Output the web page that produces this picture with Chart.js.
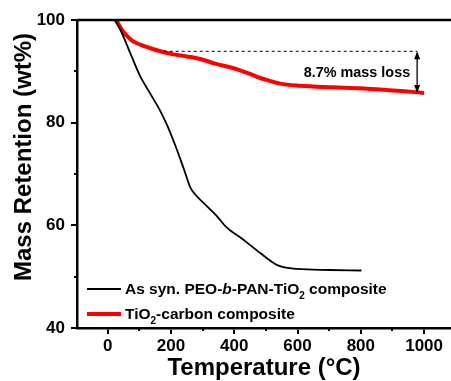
<!DOCTYPE html>
<html>
<head>
<meta charset="utf-8">
<script src="https://cdn.jsdelivr.net/npm/chart.js@4"></script>
<style>
  html, body { margin: 0; padding: 0; background: #fff; }
  #wrap { width: 451px; height: 381px; }
</style>
</head>
<body>
<div id="wrap"><canvas id="tga"></canvas></div>
<script>
// TGA data (temperature in °C, mass retention in wt%)
const asSynTemp = [22, 40, 71, 103, 135, 166, 187, 198, 214, 229, 245, 261, 277, 319, 345, 376, 429, 482, 534, 560, 598, 700, 802];
const asSynMass = [100, 98.1, 93.6, 89.0, 85.6, 82.3, 79.6, 78.0, 75.5, 73.0, 70.2, 67.4, 66.0, 63.4, 61.8, 59.6, 57.2, 54.6, 52.3, 51.8, 51.5, 51.3, 51.2];
const carbonTemp = [27, 40, 52, 77, 103, 135, 155, 208, 250, 292, 345, 380, 419, 450, 482, 515, 545, 608, 713, 800, 871, 940, 1000];
const carbonMass = [100, 98.6, 97.5, 96.0, 95.2, 94.5, 94.1, 93.3, 92.9, 92.4, 91.4, 90.9, 90.2, 89.5, 88.7, 88.1, 87.6, 87.2, 86.9, 86.7, 86.4, 86.1, 85.8];

const xTicks = [0, 200, 400, 600, 800, 1000];
const xMinorTicks = [-100, 100, 300, 500, 700, 900];
const yTicks = [40, 60, 80, 100];
const yMinorTicks = [50, 70, 90];

const yTitle = 'Mass Retention (wt%)';

// mass-loss annotation
const lossLabel = '8.7% mass loss';
const lossTop = 93.9;
const lossBottom = 85.8;
const lossFromTemp = 177;
const lossAtTemp = 978;

const boldFont = '"Liberation Sans", Arial, sans-serif';

const toPoints = (xs, ys) => xs.map((x, i) => ({ x, y: ys[i] }));

// y title, minor ticks, top frame line, annotation and legend
const extras = {
  id: 'extras',
  afterDraw(chart) {
    const { ctx, chartArea, scales } = chart;
    const xs = scales.x, ys = scales.y;
    ctx.save();
    ctx.strokeStyle = '#000';
    ctx.fillStyle = '#000';

    // y axis title (sits a bit above the axis middle in the original)
    ctx.save();
    ctx.translate(24, 157);
    ctx.rotate(-Math.PI / 2);
    ctx.font = 'bold 24px ' + boldFont;
    ctx.textAlign = 'center';
    ctx.textBaseline = 'middle';
    ctx.fillText(yTitle, 0, 0);
    ctx.restore();

    // minor ticks
    ctx.lineWidth = 2;
    xMinorTicks.forEach(v => {
      const px = Math.round(xs.getPixelForValue(v));
      if (px < chartArea.left) return;
      ctx.beginPath();
      ctx.moveTo(px, chartArea.bottom);
      ctx.lineTo(px, chartArea.bottom + 3);
      ctx.stroke();
    });
    yMinorTicks.forEach(v => {
      const py = Math.round(ys.getPixelForValue(v));
      ctx.beginPath();
      ctx.moveTo(chartArea.left, py);
      ctx.lineTo(chartArea.left - 3, py);
      ctx.stroke();
    });

    // top frame
    ctx.lineWidth = 2.5;
    ctx.beginPath();
    ctx.moveTo(chartArea.left, chartArea.top);
    ctx.lineTo(chartArea.right, chartArea.top);
    ctx.stroke();

    // dashed reference line
    const yTop = ys.getPixelForValue(lossTop);
    const yBot = ys.getPixelForValue(lossBottom);
    const xa = xs.getPixelForValue(lossAtTemp);
    ctx.lineWidth = 1;
    ctx.setLineDash([3, 3]);
    ctx.beginPath();
    ctx.moveTo(xs.getPixelForValue(lossFromTemp), yTop);
    ctx.lineTo(xa, yTop);
    ctx.stroke();
    ctx.setLineDash([]);

    // double arrow
    ctx.lineWidth = 1.3;
    ctx.beginPath();
    ctx.moveTo(xa, yTop + 2);
    ctx.lineTo(xa, yBot - 2);
    ctx.stroke();
    [[yTop, 1], [yBot, -1]].forEach(([y, d]) => {
      ctx.beginPath();
      ctx.moveTo(xa, y);
      ctx.lineTo(xa - 3, y + d * 8);
      ctx.lineTo(xa + 3, y + d * 8);
      ctx.closePath();
      ctx.fill();
    });

    ctx.font = 'bold 14.4px ' + boldFont;
    ctx.textAlign = 'right';
    ctx.textBaseline = 'middle';
    ctx.fillText(lossLabel, xa - 7, (yTop + yBot) / 2 + 1);

    // legend
    const drawRuns = (x, y, runs) => {
      ctx.textAlign = 'left';
      ctx.textBaseline = 'alphabetic';
      runs.forEach(r => {
        ctx.font = r.font;
        ctx.fillText(r.t, x, y + (r.dy || 0));
        x += ctx.measureText(r.t).width;
      });
    };
    const b = 'bold 15.5px ' + boldFont;
    const bi = 'italic bold 15.5px ' + boldFont;
    const sub = 'bold 10px ' + boldFont;
    const lx0 = 87, lx1 = 121, tx = 125;
    const ly1 = 289, ly2 = 314;

    ctx.lineWidth = 1.8;
    ctx.strokeStyle = '#000';
    ctx.beginPath(); ctx.moveTo(lx0, ly1); ctx.lineTo(lx1, ly1); ctx.stroke();
    ctx.lineWidth = 4;
    ctx.strokeStyle = '#ff0000';
    ctx.beginPath(); ctx.moveTo(lx0, ly2); ctx.lineTo(lx1, ly2); ctx.stroke();

    drawRuns(tx, ly1 + 5, [
      { t: 'As syn. PEO-', font: b },
      { t: 'b', font: bi },
      { t: '-PAN-TiO', font: b },
      { t: '2', font: sub, dy: 5 },
      { t: ' composite', font: b }
    ]);
    drawRuns(tx, ly2 + 5, [
      { t: 'TiO', font: b },
      { t: '2', font: sub, dy: 5 },
      { t: '-carbon composite', font: b }
    ]);

    ctx.restore();
  }
};

new Chart(document.getElementById('tga'), {
  type: 'scatter',
  data: {
    datasets: [
      {
        label: 'As syn. PEO-b-PAN-TiO2 composite',
        data: toPoints(asSynTemp, asSynMass),
        showLine: true,
        borderColor: '#000',
        borderWidth: 1.8,
        pointRadius: 0,
        cubicInterpolationMode: 'monotone'
      },
      {
        label: 'TiO2-carbon composite',
        data: toPoints(carbonTemp, carbonMass),
        showLine: true,
        borderColor: '#ff0000',
        borderWidth: 4,
        pointRadius: 0,
        cubicInterpolationMode: 'monotone'
      }
    ]
  },
  options: {
    responsive: true,
    maintainAspectRatio: false,
    animation: false,
    layout: { padding: { top: 20, right: 0, left: 0, bottom: 0 } },
    plugins: { legend: { display: false }, tooltip: { enabled: false } },
    scales: {
      x: {
        type: 'linear',
        min: -97,
        max: 1085,
        afterBuildTicks: s => { s.ticks = xTicks.map(value => ({ value })); },
        afterFit: s => { s.height = 53; },
        border: { display: true, color: '#000', width: 2.5 },
        grid: { drawOnChartArea: false, drawTicks: true, tickLength: 6, color: '#000', lineWidth: 2 },
        ticks: { color: '#000', font: { family: boldFont, size: 17, weight: 'bold' }, padding: 2, maxRotation: 0, callback: v => String(v) },
        title: { display: true, text: 'Temperature (°C)', color: '#000', font: { family: boldFont, size: 24, weight: 'bold' }, padding: { top: 0, bottom: -2 } }
      },
      y: {
        type: 'linear',
        min: 40,
        max: 100,
        afterBuildTicks: s => { s.ticks = yTicks.map(value => ({ value })); },
        afterFit: s => { s.width = 77; },
        border: { display: true, color: '#000', width: 2.5 },
        grid: { drawOnChartArea: false, drawTicks: true, tickLength: 6, color: '#000', lineWidth: 2 },
        ticks: { color: '#000', font: { family: boldFont, size: 17, weight: 'bold' }, padding: 6, callback: v => String(v) },
        title: { display: false }
      }
    }
  },
  plugins: [extras]
});
</script>
</body>
</html>
